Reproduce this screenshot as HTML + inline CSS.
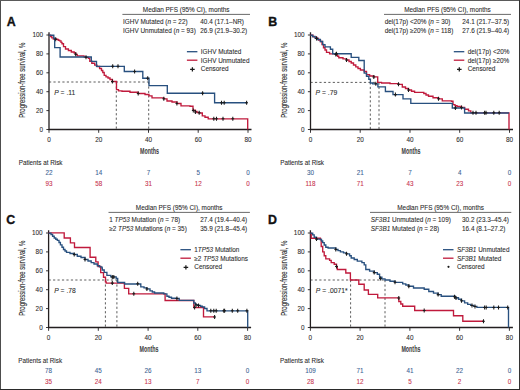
<!DOCTYPE html>
<html><head><meta charset="utf-8"><style>
html,body{margin:0;padding:0;background:#fff;width:520px;height:390px;overflow:hidden;font-family:"Liberation Sans",sans-serif;}
svg{display:block;}
text{font-family:"Liberation Sans",sans-serif;}
</style></head><body>
<svg width="520" height="390" viewBox="0 0 520 390" font-family="Liberation Sans, sans-serif">
<rect x="0" y="0" width="520" height="390" fill="#fff"/>
<text x="6.7" y="25.5" font-size="12.4" font-weight="bold" fill="#111" stroke="#111" stroke-width="0.35">A</text>
<text x="186.2" y="11.6" font-size="6.40" text-anchor="middle" fill="#2b2b2b" stroke="#2b2b2b" stroke-width="0.08" >Median PFS (95% CI), months</text>
<line x1="122.4" y1="14.4" x2="250.0" y2="14.4" stroke="#444" stroke-width="0.8"/>
<text x="123.1" y="23.8" font-size="6.40" text-anchor="start" fill="#2b2b2b" stroke="#2b2b2b" stroke-width="0.08" >IGHV Mutated (<tspan font-style="italic">n</tspan> = 22)</text>
<text x="200.3" y="23.8" font-size="6.40" text-anchor="start" fill="#2b2b2b" stroke="#2b2b2b" stroke-width="0.08" >40.4 (17.1–NR)</text>
<text x="123.1" y="33.0" font-size="6.40" text-anchor="start" fill="#2b2b2b" stroke="#2b2b2b" stroke-width="0.08" >IGHV Unmutated (<tspan font-style="italic">n</tspan> = 93)</text>
<text x="200.3" y="33.0" font-size="6.40" text-anchor="start" fill="#2b2b2b" stroke="#2b2b2b" stroke-width="0.08" >26.9 (21.9–30.2)</text>
<path d="M49.0 32.2 V129.5 H251.5" fill="none" stroke="#231f20" stroke-width="1.3"/>
<line x1="46.4" y1="129.5" x2="49.0" y2="129.5" stroke="#231f20" stroke-width="0.9"/>
<text x="43.1" y="131.8" font-size="6.40" text-anchor="end" fill="#2b2b2b" stroke="#2b2b2b" stroke-width="0.08" >0</text>
<line x1="46.4" y1="110.6" x2="49.0" y2="110.6" stroke="#231f20" stroke-width="0.9"/>
<text x="43.1" y="112.9" font-size="6.40" text-anchor="end" fill="#2b2b2b" stroke="#2b2b2b" stroke-width="0.08" >20</text>
<line x1="46.4" y1="91.7" x2="49.0" y2="91.7" stroke="#231f20" stroke-width="0.9"/>
<text x="43.1" y="94.0" font-size="6.40" text-anchor="end" fill="#2b2b2b" stroke="#2b2b2b" stroke-width="0.08" >40</text>
<line x1="46.4" y1="72.8" x2="49.0" y2="72.8" stroke="#231f20" stroke-width="0.9"/>
<text x="43.1" y="75.1" font-size="6.40" text-anchor="end" fill="#2b2b2b" stroke="#2b2b2b" stroke-width="0.08" >60</text>
<line x1="46.4" y1="53.9" x2="49.0" y2="53.9" stroke="#231f20" stroke-width="0.9"/>
<text x="43.1" y="56.2" font-size="6.40" text-anchor="end" fill="#2b2b2b" stroke="#2b2b2b" stroke-width="0.08" >80</text>
<line x1="46.4" y1="35.0" x2="49.0" y2="35.0" stroke="#231f20" stroke-width="0.9"/>
<text x="43.1" y="37.3" font-size="6.40" text-anchor="end" fill="#2b2b2b" stroke="#2b2b2b" stroke-width="0.08" >100</text>
<line x1="49.0" y1="129.5" x2="49.0" y2="132.8" stroke="#231f20" stroke-width="0.9"/>
<text x="49.0" y="142.2" font-size="6.40" text-anchor="middle" fill="#2b2b2b" stroke="#2b2b2b" stroke-width="0.08" >0</text>
<line x1="98.7" y1="129.5" x2="98.7" y2="132.8" stroke="#231f20" stroke-width="0.9"/>
<text x="98.7" y="142.2" font-size="6.40" text-anchor="middle" fill="#2b2b2b" stroke="#2b2b2b" stroke-width="0.08" >20</text>
<line x1="148.5" y1="129.5" x2="148.5" y2="132.8" stroke="#231f20" stroke-width="0.9"/>
<text x="148.5" y="142.2" font-size="6.40" text-anchor="middle" fill="#2b2b2b" stroke="#2b2b2b" stroke-width="0.08" >40</text>
<line x1="198.2" y1="129.5" x2="198.2" y2="132.8" stroke="#231f20" stroke-width="0.9"/>
<text x="198.2" y="142.2" font-size="6.40" text-anchor="middle" fill="#2b2b2b" stroke="#2b2b2b" stroke-width="0.08" >60</text>
<line x1="248.0" y1="129.5" x2="248.0" y2="132.8" stroke="#231f20" stroke-width="0.9"/>
<text x="248.0" y="142.2" font-size="6.40" text-anchor="middle" fill="#2b2b2b" stroke="#2b2b2b" stroke-width="0.08" >80</text>
<text x="149.5" y="153.6" font-size="8.20" text-anchor="middle" fill="#2b2b2b" stroke="#2b2b2b" stroke-width="0.08" font-weight="bold" textLength="19" lengthAdjust="spacingAndGlyphs" fill-opacity="0.9">Months</text>
<text transform="translate(25.1 80.2) rotate(-90)" font-size="8.4" text-anchor="middle" fill="#2b2b2b" stroke="#2b2b2b" stroke-width="0.12" textLength="75" lengthAdjust="spacingAndGlyphs">Progression-free survival, %</text>
<line x1="186.9" y1="51.7" x2="197.4" y2="51.7" stroke="#28507f" stroke-width="1.3"/>
<line x1="186.9" y1="60.2" x2="197.4" y2="60.2" stroke="#c01a3c" stroke-width="1.3"/>
<path d="M192.4 67.2 v4.4 M190.1 69.4 h4.6" stroke="#1a1a1a" stroke-width="1.25" fill="none"/>
<text x="200.8" y="54.0" font-size="6.40" text-anchor="start" fill="#2b2b2b" stroke="#2b2b2b" stroke-width="0.08" >IGHV Mutated</text>
<text x="200.8" y="62.6" font-size="6.40" text-anchor="start" fill="#2b2b2b" stroke="#2b2b2b" stroke-width="0.08" >IGHV Unmutated</text>
<text x="200.8" y="71.3" font-size="6.40" text-anchor="start" fill="#2b2b2b" stroke="#2b2b2b" stroke-width="0.08" >Censored</text>
<text x="54.2" y="95.0" font-size="6.75" text-anchor="start" fill="#2b2b2b" stroke="#2b2b2b" stroke-width="0.08" ><tspan font-style="italic">P</tspan> = .11</text>
<text x="18.7" y="164.8" font-size="6.30" text-anchor="start" fill="#2b2b2b" stroke="#2b2b2b" stroke-width="0.08" >Patients at Risk</text>
<text x="49.0" y="175.2" font-size="6.30" text-anchor="middle" fill="#3d6494" stroke="#3d6494" stroke-width="0.08" >22</text>
<text x="49.0" y="185.8" font-size="6.30" text-anchor="middle" fill="#c8324e" stroke="#c8324e" stroke-width="0.08" >93</text>
<text x="98.7" y="175.2" font-size="6.30" text-anchor="middle" fill="#3d6494" stroke="#3d6494" stroke-width="0.08" >14</text>
<text x="98.7" y="185.8" font-size="6.30" text-anchor="middle" fill="#c8324e" stroke="#c8324e" stroke-width="0.08" >58</text>
<text x="148.5" y="175.2" font-size="6.30" text-anchor="middle" fill="#3d6494" stroke="#3d6494" stroke-width="0.08" >7</text>
<text x="148.5" y="185.8" font-size="6.30" text-anchor="middle" fill="#c8324e" stroke="#c8324e" stroke-width="0.08" >31</text>
<text x="198.2" y="175.2" font-size="6.30" text-anchor="middle" fill="#3d6494" stroke="#3d6494" stroke-width="0.08" >5</text>
<text x="198.2" y="185.8" font-size="6.30" text-anchor="middle" fill="#c8324e" stroke="#c8324e" stroke-width="0.08" >12</text>
<text x="248.0" y="175.2" font-size="6.30" text-anchor="middle" fill="#3d6494" stroke="#3d6494" stroke-width="0.08" >0</text>
<text x="248.0" y="185.8" font-size="6.30" text-anchor="middle" fill="#c8324e" stroke="#c8324e" stroke-width="0.08" >0</text>
<path d="M49 82 H148.7 M116.3 82 V129.5 M148.7 82 V129.5" fill="none" stroke="#333" stroke-width="0.8" stroke-dasharray="2.2 2.25"/>
<path d="M49.0 35.2 H50.5 V36.5 H51.8 V37.8 H53.3 V39.0 H56.7 V39.3 H58.2 V40.2 H59.6 V40.8 H61.0 V42.3 H62.0 V43.7 H63.5 V46.6 H65.5 V49.0 H68.4 V50.5 H71.3 V52.0 H74.2 V53.0 H75.7 V54.4 H77.2 V55.9 H84.0 V56.9 H86.0 V57.3 H88.4 V58.3 H89.8 V61.2 H91.8 V63.2 H94.7 V65.1 H97.0 V66.5 H99.6 V68.5 H101.5 V70.5 H102.8 V72.5 H104.2 V75.4 H106.0 V76.8 H108.0 V78.0 H110.0 V79.5 H112.4 V81.5 H116.5 V83.0 H116.5 V89.6 H118.5 V90.8 H122.0 V91.2 H130.0 V92.2 H138.2 V93.5 H145.0 V94.5 H149.0 V95.8 H152.0 V97.8 H163.8 V98.8 H167.0 V101.0 H172.0 V102.0 H177.0 V103.5 H181.0 V105.8 H190.0 V106.2 H193.0 V110.2 H195.4 V111.5 H197.0 V112.5 H199.2 V113.0 H202.3 V115.8 H205.0 V117.2 H208.2 V118.8 H247.7 V118.8 H247.7 V129.5" fill="none" stroke="#c01a3c" stroke-width="1.35" stroke-linejoin="miter" />
<path d="M49.0 35.2 H53.8 V38.2 H54.7 V47.6 H60.1 V57.0 H91.3 V61.3 H96.5 V66.3 H124.3 V71.5 H142.8 V78.2 H149.0 V85.6 H167.3 V93.2 H214.6 V102.7 H247.3 V102.7" fill="none" stroke="#28507f" stroke-width="1.35" stroke-linejoin="miter" />
<path d="M55.7 37.3 v4 M54.3 39.3 h2.8" stroke="#1a1a1a" stroke-width="1.05" fill="none"/>
<path d="M75.7 52.2 v4 M74.3 54.2 h2.8" stroke="#1a1a1a" stroke-width="1.05" fill="none"/>
<path d="M86.0 55.3 v4 M84.6 57.3 h2.8" stroke="#1a1a1a" stroke-width="1.05" fill="none"/>
<path d="M112.4 79.5 v4 M111.0 81.5 h2.8" stroke="#1a1a1a" stroke-width="1.05" fill="none"/>
<path d="M138.2 91.5 v4 M136.8 93.5 h2.8" stroke="#1a1a1a" stroke-width="1.05" fill="none"/>
<path d="M163.8 96.8 v4 M162.4 98.8 h2.8" stroke="#1a1a1a" stroke-width="1.05" fill="none"/>
<path d="M176.9 101.5 v4 M175.5 103.5 h2.8" stroke="#1a1a1a" stroke-width="1.05" fill="none"/>
<path d="M193.3 108.4 v4 M191.9 110.4 h2.8" stroke="#1a1a1a" stroke-width="1.05" fill="none"/>
<path d="M195.4 110.0 v4 M194.0 112.0 h2.8" stroke="#1a1a1a" stroke-width="1.05" fill="none"/>
<path d="M199.2 110.8 v4 M197.8 112.8 h2.8" stroke="#1a1a1a" stroke-width="1.05" fill="none"/>
<path d="M213.8 116.8 v4 M212.4 118.8 h2.8" stroke="#1a1a1a" stroke-width="1.05" fill="none"/>
<path d="M216.5 116.8 v4 M215.1 118.8 h2.8" stroke="#1a1a1a" stroke-width="1.05" fill="none"/>
<path d="M223.0 116.8 v4 M221.6 118.8 h2.8" stroke="#1a1a1a" stroke-width="1.05" fill="none"/>
<path d="M232.8 116.8 v4 M231.4 118.8 h2.8" stroke="#1a1a1a" stroke-width="1.05" fill="none"/>
<path d="M112.7 64.3 v4 M111.3 66.3 h2.8" stroke="#1a1a1a" stroke-width="1.05" fill="none"/>
<path d="M118.0 64.3 v4 M116.6 66.3 h2.8" stroke="#1a1a1a" stroke-width="1.05" fill="none"/>
<path d="M134.6 69.5 v4 M133.2 71.5 h2.8" stroke="#1a1a1a" stroke-width="1.05" fill="none"/>
<path d="M147.7 76.2 v4 M146.3 78.2 h2.8" stroke="#1a1a1a" stroke-width="1.05" fill="none"/>
<path d="M202.6 91.2 v4 M201.2 93.2 h2.8" stroke="#1a1a1a" stroke-width="1.05" fill="none"/>
<path d="M221.5 100.7 v4 M220.1 102.7 h2.8" stroke="#1a1a1a" stroke-width="1.05" fill="none"/>
<path d="M224.2 100.7 v4 M222.8 102.7 h2.8" stroke="#1a1a1a" stroke-width="1.05" fill="none"/>
<path d="M246.6 100.7 v4 M245.2 102.7 h2.8" stroke="#1a1a1a" stroke-width="1.05" fill="none"/>
<text x="268.2" y="25.5" font-size="12.4" font-weight="bold" fill="#111" stroke="#111" stroke-width="0.35">B</text>
<text x="447.5" y="11.6" font-size="6.40" text-anchor="middle" fill="#2b2b2b" stroke="#2b2b2b" stroke-width="0.08" >Median PFS (95% CI), months</text>
<line x1="384.0" y1="14.4" x2="511.0" y2="14.4" stroke="#444" stroke-width="0.8"/>
<text x="384.7" y="23.8" font-size="6.40" text-anchor="start" fill="#2b2b2b" stroke="#2b2b2b" stroke-width="0.08" >del(17p) &lt;20% (<tspan font-style="italic">n</tspan> = 30)</text>
<text x="462.3" y="23.8" font-size="6.40" text-anchor="start" fill="#2b2b2b" stroke="#2b2b2b" stroke-width="0.08" >24.1 (21.7–37.5)</text>
<text x="384.7" y="33.0" font-size="6.40" text-anchor="start" fill="#2b2b2b" stroke="#2b2b2b" stroke-width="0.08" >del(17p) ≥20% (<tspan font-style="italic">n</tspan> = 118)</text>
<text x="462.3" y="33.0" font-size="6.40" text-anchor="start" fill="#2b2b2b" stroke="#2b2b2b" stroke-width="0.08" >27.6 (21.9–40.4)</text>
<path d="M310.5 32.2 V129.5 H513.0" fill="none" stroke="#231f20" stroke-width="1.3"/>
<line x1="307.9" y1="129.5" x2="310.5" y2="129.5" stroke="#231f20" stroke-width="0.9"/>
<text x="304.6" y="131.8" font-size="6.40" text-anchor="end" fill="#2b2b2b" stroke="#2b2b2b" stroke-width="0.08" >0</text>
<line x1="307.9" y1="110.6" x2="310.5" y2="110.6" stroke="#231f20" stroke-width="0.9"/>
<text x="304.6" y="112.9" font-size="6.40" text-anchor="end" fill="#2b2b2b" stroke="#2b2b2b" stroke-width="0.08" >20</text>
<line x1="307.9" y1="91.7" x2="310.5" y2="91.7" stroke="#231f20" stroke-width="0.9"/>
<text x="304.6" y="94.0" font-size="6.40" text-anchor="end" fill="#2b2b2b" stroke="#2b2b2b" stroke-width="0.08" >40</text>
<line x1="307.9" y1="72.8" x2="310.5" y2="72.8" stroke="#231f20" stroke-width="0.9"/>
<text x="304.6" y="75.1" font-size="6.40" text-anchor="end" fill="#2b2b2b" stroke="#2b2b2b" stroke-width="0.08" >60</text>
<line x1="307.9" y1="53.9" x2="310.5" y2="53.9" stroke="#231f20" stroke-width="0.9"/>
<text x="304.6" y="56.2" font-size="6.40" text-anchor="end" fill="#2b2b2b" stroke="#2b2b2b" stroke-width="0.08" >80</text>
<line x1="307.9" y1="35.0" x2="310.5" y2="35.0" stroke="#231f20" stroke-width="0.9"/>
<text x="304.6" y="37.3" font-size="6.40" text-anchor="end" fill="#2b2b2b" stroke="#2b2b2b" stroke-width="0.08" >100</text>
<line x1="310.5" y1="129.5" x2="310.5" y2="132.8" stroke="#231f20" stroke-width="0.9"/>
<text x="310.5" y="142.2" font-size="6.40" text-anchor="middle" fill="#2b2b2b" stroke="#2b2b2b" stroke-width="0.08" >0</text>
<line x1="360.2" y1="129.5" x2="360.2" y2="132.8" stroke="#231f20" stroke-width="0.9"/>
<text x="360.2" y="142.2" font-size="6.40" text-anchor="middle" fill="#2b2b2b" stroke="#2b2b2b" stroke-width="0.08" >20</text>
<line x1="410.0" y1="129.5" x2="410.0" y2="132.8" stroke="#231f20" stroke-width="0.9"/>
<text x="410.0" y="142.2" font-size="6.40" text-anchor="middle" fill="#2b2b2b" stroke="#2b2b2b" stroke-width="0.08" >40</text>
<line x1="459.7" y1="129.5" x2="459.7" y2="132.8" stroke="#231f20" stroke-width="0.9"/>
<text x="459.7" y="142.2" font-size="6.40" text-anchor="middle" fill="#2b2b2b" stroke="#2b2b2b" stroke-width="0.08" >60</text>
<line x1="509.5" y1="129.5" x2="509.5" y2="132.8" stroke="#231f20" stroke-width="0.9"/>
<text x="509.5" y="142.2" font-size="6.40" text-anchor="middle" fill="#2b2b2b" stroke="#2b2b2b" stroke-width="0.08" >80</text>
<text x="411.0" y="153.6" font-size="8.20" text-anchor="middle" fill="#2b2b2b" stroke="#2b2b2b" stroke-width="0.08" font-weight="bold" textLength="19" lengthAdjust="spacingAndGlyphs" fill-opacity="0.9">Months</text>
<text transform="translate(286.6 80.2) rotate(-90)" font-size="8.4" text-anchor="middle" fill="#2b2b2b" stroke="#2b2b2b" stroke-width="0.12" textLength="75" lengthAdjust="spacingAndGlyphs">Progression-free survival, %</text>
<line x1="453.8" y1="51.7" x2="464.3" y2="51.7" stroke="#28507f" stroke-width="1.3"/>
<line x1="453.8" y1="60.2" x2="464.3" y2="60.2" stroke="#c01a3c" stroke-width="1.3"/>
<path d="M459.3 67.2 v4.4 M457.0 69.4 h4.6" stroke="#1a1a1a" stroke-width="1.25" fill="none"/>
<text x="467.7" y="54.0" font-size="6.40" text-anchor="start" fill="#2b2b2b" stroke="#2b2b2b" stroke-width="0.08" >del(17p) &lt;20%</text>
<text x="467.7" y="62.6" font-size="6.40" text-anchor="start" fill="#2b2b2b" stroke="#2b2b2b" stroke-width="0.08" >del(17p) ≥20%</text>
<text x="467.7" y="71.3" font-size="6.40" text-anchor="start" fill="#2b2b2b" stroke="#2b2b2b" stroke-width="0.08" >Censored</text>
<text x="315.6" y="95.0" font-size="6.75" text-anchor="start" fill="#2b2b2b" stroke="#2b2b2b" stroke-width="0.08" ><tspan font-style="italic">P</tspan> = .79</text>
<text x="280.2" y="164.8" font-size="6.30" text-anchor="start" fill="#2b2b2b" stroke="#2b2b2b" stroke-width="0.08" >Patients at Risk</text>
<text x="310.5" y="175.2" font-size="6.30" text-anchor="middle" fill="#3d6494" stroke="#3d6494" stroke-width="0.08" >30</text>
<text x="310.5" y="185.8" font-size="6.30" text-anchor="middle" fill="#c8324e" stroke="#c8324e" stroke-width="0.08" >118</text>
<text x="360.2" y="175.2" font-size="6.30" text-anchor="middle" fill="#3d6494" stroke="#3d6494" stroke-width="0.08" >21</text>
<text x="360.2" y="185.8" font-size="6.30" text-anchor="middle" fill="#c8324e" stroke="#c8324e" stroke-width="0.08" >71</text>
<text x="410.0" y="175.2" font-size="6.30" text-anchor="middle" fill="#3d6494" stroke="#3d6494" stroke-width="0.08" >7</text>
<text x="410.0" y="185.8" font-size="6.30" text-anchor="middle" fill="#c8324e" stroke="#c8324e" stroke-width="0.08" >43</text>
<text x="459.7" y="175.2" font-size="6.30" text-anchor="middle" fill="#3d6494" stroke="#3d6494" stroke-width="0.08" >4</text>
<text x="459.7" y="185.8" font-size="6.30" text-anchor="middle" fill="#c8324e" stroke="#c8324e" stroke-width="0.08" >23</text>
<text x="509.5" y="175.2" font-size="6.30" text-anchor="middle" fill="#3d6494" stroke="#3d6494" stroke-width="0.08" >0</text>
<text x="509.5" y="185.8" font-size="6.30" text-anchor="middle" fill="#c8324e" stroke="#c8324e" stroke-width="0.08" >0</text>
<path d="M310.5 82.4 H379 M370.3 82.4 V129.5 M379 82.4 V129.5" fill="none" stroke="#333" stroke-width="0.8" stroke-dasharray="2.2 2.25"/>
<path d="M310.5 35.2 H313.0 V36.8 H316.5 V38.5 H318.5 V40.0 H320.4 V41.5 H322.0 V44.5 H323.5 V47.7 H325.0 V50.0 H326.5 V52.3 H329.6 V53.8 H335.8 V54.6 H337.5 V56.2 H338.8 V57.7 H343.0 V58.8 H346.5 V60.0 H349.0 V61.5 H351.2 V63.0 H353.5 V65.0 H355.8 V66.9 H358.0 V68.5 H360.4 V70.0 H364.2 V71.5 H366.5 V74.6 H369.6 V76.0 H373.8 V76.9 H377.7 V78.5 H377.7 V82.3 H381.5 V83.0 H390.0 V83.6 H398.5 V84.3 H402.3 V87.0 H405.5 V88.5 H408.5 V90.0 H411.5 V91.2 H414.6 V92.3 H423.8 V93.5 H426.0 V95.0 H428.5 V96.2 H433.0 V97.7 H438.5 V98.8 H442.3 V100.8 H451.5 V101.2 H453.0 V104.6 H455.0 V105.6 H457.0 V106.5 H461.5 V107.4 H464.6 V109.2 H468.5 V110.8 H470.8 V112.8 H509.0 V112.8 H509.0 V129.5" fill="none" stroke="#c01a3c" stroke-width="1.35" stroke-linejoin="miter" />
<path d="M310.5 35.2 H312.5 V36.5 H315.0 V38.0 H317.5 V39.5 H320.4 V41.5 H322.7 V44.6 H325.0 V46.9 H330.4 V49.2 H332.7 V53.7 H351.2 V57.4 H358.8 V60.5 H364.2 V73.1 H366.5 V76.2 H368.8 V79.2 H370.4 V83.0 H372.7 V83.8 H377.9 V86.9 H385.4 V91.5 H393.0 V94.6 H403.0 V98.8 H410.8 V103.3 H452.3 V108.0 H464.6 V113.0 H509.0 V113.0" fill="none" stroke="#28507f" stroke-width="1.35" stroke-linejoin="miter" />
<path d="M316.5 36.5 v4 M315.1 38.5 h2.8" stroke="#1a1a1a" stroke-width="1.05" fill="none"/>
<path d="M335.8 52.4 v4 M334.4 54.4 h2.8" stroke="#1a1a1a" stroke-width="1.05" fill="none"/>
<path d="M346.5 58.0 v4 M345.1 60.0 h2.8" stroke="#1a1a1a" stroke-width="1.05" fill="none"/>
<path d="M373.8 74.9 v4 M372.4 76.9 h2.8" stroke="#1a1a1a" stroke-width="1.05" fill="none"/>
<path d="M398.5 82.3 v4 M397.1 84.3 h2.8" stroke="#1a1a1a" stroke-width="1.05" fill="none"/>
<path d="M408.5 88.0 v4 M407.1 90.0 h2.8" stroke="#1a1a1a" stroke-width="1.05" fill="none"/>
<path d="M438.5 96.8 v4 M437.1 98.8 h2.8" stroke="#1a1a1a" stroke-width="1.05" fill="none"/>
<path d="M461.5 105.4 v4 M460.1 107.4 h2.8" stroke="#1a1a1a" stroke-width="1.05" fill="none"/>
<path d="M473.0 110.8 v4 M471.6 112.8 h2.8" stroke="#1a1a1a" stroke-width="1.05" fill="none"/>
<path d="M476.0 110.8 v4 M474.6 112.8 h2.8" stroke="#1a1a1a" stroke-width="1.05" fill="none"/>
<path d="M484.6 110.8 v4 M483.2 112.8 h2.8" stroke="#1a1a1a" stroke-width="1.05" fill="none"/>
<path d="M486.0 110.8 v4 M484.6 112.8 h2.8" stroke="#1a1a1a" stroke-width="1.05" fill="none"/>
<path d="M493.8 110.8 v4 M492.4 112.8 h2.8" stroke="#1a1a1a" stroke-width="1.05" fill="none"/>
<path d="M499.2 110.8 v4 M497.8 112.8 h2.8" stroke="#1a1a1a" stroke-width="1.05" fill="none"/>
<path d="M336.5 51.7 v4 M335.1 53.7 h2.8" stroke="#1a1a1a" stroke-width="1.05" fill="none"/>
<path d="M375.8 81.8 v4 M374.4 83.8 h2.8" stroke="#1a1a1a" stroke-width="1.05" fill="none"/>
<path d="M395.4 92.6 v4 M394.0 94.6 h2.8" stroke="#1a1a1a" stroke-width="1.05" fill="none"/>
<path d="M455.4 106.0 v4 M454.0 108.0 h2.8" stroke="#1a1a1a" stroke-width="1.05" fill="none"/>
<text x="6.3" y="223.5" font-size="12.4" font-weight="bold" fill="#111" stroke="#111" stroke-width="0.35">C</text>
<text x="179.2" y="209.6" font-size="6.40" text-anchor="middle" fill="#2b2b2b" stroke="#2b2b2b" stroke-width="0.08" >Median PFS (95% CI), months</text>
<line x1="108.5" y1="212.4" x2="249.9" y2="212.4" stroke="#444" stroke-width="0.8"/>
<text x="109.2" y="221.8" font-size="6.40" text-anchor="start" fill="#2b2b2b" stroke="#2b2b2b" stroke-width="0.08" >1 <tspan font-style="italic">TP53</tspan> Mutation (<tspan font-style="italic">n</tspan> = 78)</text>
<text x="200.3" y="221.8" font-size="6.40" text-anchor="start" fill="#2b2b2b" stroke="#2b2b2b" stroke-width="0.08" >27.4 (19.4–40.4)</text>
<text x="109.2" y="231.0" font-size="6.40" text-anchor="start" fill="#2b2b2b" stroke="#2b2b2b" stroke-width="0.08" >≥2 <tspan font-style="italic">TP53</tspan> Mutations (<tspan font-style="italic">n</tspan> = 35)</text>
<text x="200.3" y="231.0" font-size="6.40" text-anchor="start" fill="#2b2b2b" stroke="#2b2b2b" stroke-width="0.08" >35.9 (21.8–45.4)</text>
<path d="M48.6 230.2 V327.5 H251.1" fill="none" stroke="#231f20" stroke-width="1.3"/>
<line x1="46.0" y1="327.5" x2="48.6" y2="327.5" stroke="#231f20" stroke-width="0.9"/>
<text x="42.7" y="329.8" font-size="6.40" text-anchor="end" fill="#2b2b2b" stroke="#2b2b2b" stroke-width="0.08" >0</text>
<line x1="46.0" y1="308.6" x2="48.6" y2="308.6" stroke="#231f20" stroke-width="0.9"/>
<text x="42.7" y="310.9" font-size="6.40" text-anchor="end" fill="#2b2b2b" stroke="#2b2b2b" stroke-width="0.08" >20</text>
<line x1="46.0" y1="289.7" x2="48.6" y2="289.7" stroke="#231f20" stroke-width="0.9"/>
<text x="42.7" y="292.0" font-size="6.40" text-anchor="end" fill="#2b2b2b" stroke="#2b2b2b" stroke-width="0.08" >40</text>
<line x1="46.0" y1="270.8" x2="48.6" y2="270.8" stroke="#231f20" stroke-width="0.9"/>
<text x="42.7" y="273.1" font-size="6.40" text-anchor="end" fill="#2b2b2b" stroke="#2b2b2b" stroke-width="0.08" >60</text>
<line x1="46.0" y1="251.9" x2="48.6" y2="251.9" stroke="#231f20" stroke-width="0.9"/>
<text x="42.7" y="254.2" font-size="6.40" text-anchor="end" fill="#2b2b2b" stroke="#2b2b2b" stroke-width="0.08" >80</text>
<line x1="46.0" y1="233.0" x2="48.6" y2="233.0" stroke="#231f20" stroke-width="0.9"/>
<text x="42.7" y="235.3" font-size="6.40" text-anchor="end" fill="#2b2b2b" stroke="#2b2b2b" stroke-width="0.08" >100</text>
<line x1="48.6" y1="327.5" x2="48.6" y2="330.8" stroke="#231f20" stroke-width="0.9"/>
<text x="48.6" y="340.2" font-size="6.40" text-anchor="middle" fill="#2b2b2b" stroke="#2b2b2b" stroke-width="0.08" >0</text>
<line x1="98.3" y1="327.5" x2="98.3" y2="330.8" stroke="#231f20" stroke-width="0.9"/>
<text x="98.3" y="340.2" font-size="6.40" text-anchor="middle" fill="#2b2b2b" stroke="#2b2b2b" stroke-width="0.08" >20</text>
<line x1="148.1" y1="327.5" x2="148.1" y2="330.8" stroke="#231f20" stroke-width="0.9"/>
<text x="148.1" y="340.2" font-size="6.40" text-anchor="middle" fill="#2b2b2b" stroke="#2b2b2b" stroke-width="0.08" >40</text>
<line x1="197.8" y1="327.5" x2="197.8" y2="330.8" stroke="#231f20" stroke-width="0.9"/>
<text x="197.8" y="340.2" font-size="6.40" text-anchor="middle" fill="#2b2b2b" stroke="#2b2b2b" stroke-width="0.08" >60</text>
<line x1="247.6" y1="327.5" x2="247.6" y2="330.8" stroke="#231f20" stroke-width="0.9"/>
<text x="247.6" y="340.2" font-size="6.40" text-anchor="middle" fill="#2b2b2b" stroke="#2b2b2b" stroke-width="0.08" >80</text>
<text x="149.1" y="351.6" font-size="8.20" text-anchor="middle" fill="#2b2b2b" stroke="#2b2b2b" stroke-width="0.08" font-weight="bold" textLength="19" lengthAdjust="spacingAndGlyphs" fill-opacity="0.9">Months</text>
<text transform="translate(24.7 278.2) rotate(-90)" font-size="8.4" text-anchor="middle" fill="#2b2b2b" stroke="#2b2b2b" stroke-width="0.12" textLength="75" lengthAdjust="spacingAndGlyphs">Progression-free survival, %</text>
<line x1="180.4" y1="249.7" x2="190.9" y2="249.7" stroke="#28507f" stroke-width="1.3"/>
<line x1="180.4" y1="258.2" x2="190.9" y2="258.2" stroke="#c01a3c" stroke-width="1.3"/>
<path d="M185.9 265.2 v4.4 M183.6 267.4 h4.6" stroke="#1a1a1a" stroke-width="1.25" fill="none"/>
<text x="194.3" y="252.0" font-size="6.40" text-anchor="start" fill="#2b2b2b" stroke="#2b2b2b" stroke-width="0.08" >1<tspan font-style="italic">TP53</tspan> Mutation</text>
<text x="194.3" y="260.6" font-size="6.40" text-anchor="start" fill="#2b2b2b" stroke="#2b2b2b" stroke-width="0.08" >≥2 <tspan font-style="italic">TP53</tspan> Mutations</text>
<text x="194.3" y="269.3" font-size="6.40" text-anchor="start" fill="#2b2b2b" stroke="#2b2b2b" stroke-width="0.08" >Censored</text>
<text x="54.2" y="293.0" font-size="6.75" text-anchor="start" fill="#2b2b2b" stroke="#2b2b2b" stroke-width="0.08" ><tspan font-style="italic">P</tspan> = .78</text>
<text x="18.3" y="362.8" font-size="6.30" text-anchor="start" fill="#2b2b2b" stroke="#2b2b2b" stroke-width="0.08" >Patients at Risk</text>
<text x="48.6" y="373.2" font-size="6.30" text-anchor="middle" fill="#3d6494" stroke="#3d6494" stroke-width="0.08" >78</text>
<text x="48.6" y="383.8" font-size="6.30" text-anchor="middle" fill="#c8324e" stroke="#c8324e" stroke-width="0.08" >35</text>
<text x="98.3" y="373.2" font-size="6.30" text-anchor="middle" fill="#3d6494" stroke="#3d6494" stroke-width="0.08" >45</text>
<text x="98.3" y="383.8" font-size="6.30" text-anchor="middle" fill="#c8324e" stroke="#c8324e" stroke-width="0.08" >24</text>
<text x="148.1" y="373.2" font-size="6.30" text-anchor="middle" fill="#3d6494" stroke="#3d6494" stroke-width="0.08" >26</text>
<text x="148.1" y="383.8" font-size="6.30" text-anchor="middle" fill="#c8324e" stroke="#c8324e" stroke-width="0.08" >13</text>
<text x="197.8" y="373.2" font-size="6.30" text-anchor="middle" fill="#3d6494" stroke="#3d6494" stroke-width="0.08" >13</text>
<text x="197.8" y="383.8" font-size="6.30" text-anchor="middle" fill="#c8324e" stroke="#c8324e" stroke-width="0.08" >7</text>
<text x="247.6" y="373.2" font-size="6.30" text-anchor="middle" fill="#3d6494" stroke="#3d6494" stroke-width="0.08" >0</text>
<text x="247.6" y="383.8" font-size="6.30" text-anchor="middle" fill="#c8324e" stroke="#c8324e" stroke-width="0.08" >0</text>
<path d="M48.6 280 H117 M105.4 280 V327.5 M116.9 280 V327.5" fill="none" stroke="#333" stroke-width="0.8" stroke-dasharray="2.2 2.25"/>
<path d="M48.6 232.9 H64.2 V238.0 H70.4 V242.9 H74.5 V247.5 H90.1 V257.2 H95.8 V261.8 H98.1 V266.5 H100.7 V272.6 H103.5 V277.2 H105.5 V281.8 H106.2 V283.1 H124.4 V288.3 H128.7 V293.8 H165.1 V300.5 H193.8 V307.5 H203.5 V316.9 H214.6 V316.9" fill="none" stroke="#c01a3c" stroke-width="1.35" stroke-linejoin="miter" />
<path d="M48.6 233.2 H51.0 V234.5 H52.6 V236.2 H54.2 V238.0 H55.8 V239.2 H57.3 V240.3 H59.0 V242.5 H60.4 V244.9 H62.0 V247.2 H63.5 V249.5 H65.0 V251.0 H66.5 V252.3 H70.0 V253.5 H74.2 V254.5 H77.3 V256.2 H81.0 V257.5 H85.0 V259.5 H88.0 V261.0 H91.2 V262.6 H94.0 V264.0 H97.3 V265.7 H99.6 V266.8 H101.9 V268.0 H102.3 V270.0 H104.2 V272.3 H106.9 V275.4 H110.8 V276.9 H113.8 V276.9 H116.2 V278.5 H117.7 V282.5 H124.6 V284.0 H138.0 V284.0 H140.8 V286.9 H144.0 V287.9 H146.9 V288.9 H150.0 V290.8 H152.3 V292.0 H154.6 V293.0 H163.8 V293.8 H166.9 V296.2 H169.0 V297.2 H171.5 V298.2 H176.9 V298.5 H179.2 V300.3 H192.3 V300.3 H193.8 V303.0 H195.4 V304.6 H198.5 V305.4 H200.5 V306.2 H202.3 V307.0 H204.6 V308.5 H207.0 V310.8 H247.7 V310.8 H247.7 V327.5" fill="none" stroke="#28507f" stroke-width="1.35" stroke-linejoin="miter" />
<path d="M74.2 252.5 v4 M72.8 254.5 h2.8" stroke="#1a1a1a" stroke-width="1.05" fill="none"/>
<path d="M85.0 257.5 v4 M83.6 259.5 h2.8" stroke="#1a1a1a" stroke-width="1.05" fill="none"/>
<path d="M112.3 274.9 v4 M110.9 276.9 h2.8" stroke="#1a1a1a" stroke-width="1.05" fill="none"/>
<path d="M113.8 274.9 v4 M112.4 276.9 h2.8" stroke="#1a1a1a" stroke-width="1.05" fill="none"/>
<path d="M137.7 281.8 v4 M136.3 283.8 h2.8" stroke="#1a1a1a" stroke-width="1.05" fill="none"/>
<path d="M146.9 286.9 v4 M145.5 288.9 h2.8" stroke="#1a1a1a" stroke-width="1.05" fill="none"/>
<path d="M176.9 296.5 v4 M175.5 298.5 h2.8" stroke="#1a1a1a" stroke-width="1.05" fill="none"/>
<path d="M196.0 303.0 v4 M194.6 305.0 h2.8" stroke="#1a1a1a" stroke-width="1.05" fill="none"/>
<path d="M198.5 303.4 v4 M197.1 305.4 h2.8" stroke="#1a1a1a" stroke-width="1.05" fill="none"/>
<path d="M210.8 308.8 v4 M209.4 310.8 h2.8" stroke="#1a1a1a" stroke-width="1.05" fill="none"/>
<path d="M213.8 308.8 v4 M212.4 310.8 h2.8" stroke="#1a1a1a" stroke-width="1.05" fill="none"/>
<path d="M216.2 308.8 v4 M214.8 310.8 h2.8" stroke="#1a1a1a" stroke-width="1.05" fill="none"/>
<path d="M223.8 308.8 v4 M222.4 310.8 h2.8" stroke="#1a1a1a" stroke-width="1.05" fill="none"/>
<path d="M224.6 308.8 v4 M223.2 310.8 h2.8" stroke="#1a1a1a" stroke-width="1.05" fill="none"/>
<path d="M232.3 308.8 v4 M230.9 310.8 h2.8" stroke="#1a1a1a" stroke-width="1.05" fill="none"/>
<path d="M237.7 308.8 v4 M236.3 310.8 h2.8" stroke="#1a1a1a" stroke-width="1.05" fill="none"/>
<path d="M246.9 308.8 v4 M245.5 310.8 h2.8" stroke="#1a1a1a" stroke-width="1.05" fill="none"/>
<path d="M112.3 281.1 v4 M110.9 283.1 h2.8" stroke="#1a1a1a" stroke-width="1.05" fill="none"/>
<path d="M133.8 291.8 v4 M132.4 293.8 h2.8" stroke="#1a1a1a" stroke-width="1.05" fill="none"/>
<path d="M194.6 305.5 v4 M193.2 307.5 h2.8" stroke="#1a1a1a" stroke-width="1.05" fill="none"/>
<path d="M214.6 314.9 v4 M213.2 316.9 h2.8" stroke="#1a1a1a" stroke-width="1.05" fill="none"/>
<text x="268.1" y="223.5" font-size="12.4" font-weight="bold" fill="#111" stroke="#111" stroke-width="0.35">D</text>
<text x="440.6" y="209.6" font-size="6.40" text-anchor="middle" fill="#2b2b2b" stroke="#2b2b2b" stroke-width="0.08" >Median PFS (95% CI), months</text>
<line x1="370.0" y1="212.4" x2="511.3" y2="212.4" stroke="#444" stroke-width="0.8"/>
<text x="370.7" y="221.8" font-size="6.40" text-anchor="start" fill="#2b2b2b" stroke="#2b2b2b" stroke-width="0.08" ><tspan font-style="italic">SF3B1</tspan> Unmutated (<tspan font-style="italic">n</tspan> = 109)</text>
<text x="462.0" y="221.8" font-size="6.40" text-anchor="start" fill="#2b2b2b" stroke="#2b2b2b" stroke-width="0.08" >30.2 (23.3–45.4)</text>
<text x="370.7" y="231.0" font-size="6.40" text-anchor="start" fill="#2b2b2b" stroke="#2b2b2b" stroke-width="0.08" ><tspan font-style="italic">SF3B1</tspan> Mutated (<tspan font-style="italic">n</tspan> = 28)</text>
<text x="462.0" y="231.0" font-size="6.40" text-anchor="start" fill="#2b2b2b" stroke="#2b2b2b" stroke-width="0.08" >16.4 (8.1–27.2)</text>
<path d="M310.4 230.2 V327.5 H512.9" fill="none" stroke="#231f20" stroke-width="1.3"/>
<line x1="307.8" y1="327.5" x2="310.4" y2="327.5" stroke="#231f20" stroke-width="0.9"/>
<text x="304.5" y="329.8" font-size="6.40" text-anchor="end" fill="#2b2b2b" stroke="#2b2b2b" stroke-width="0.08" >0</text>
<line x1="307.8" y1="308.6" x2="310.4" y2="308.6" stroke="#231f20" stroke-width="0.9"/>
<text x="304.5" y="310.9" font-size="6.40" text-anchor="end" fill="#2b2b2b" stroke="#2b2b2b" stroke-width="0.08" >20</text>
<line x1="307.8" y1="289.7" x2="310.4" y2="289.7" stroke="#231f20" stroke-width="0.9"/>
<text x="304.5" y="292.0" font-size="6.40" text-anchor="end" fill="#2b2b2b" stroke="#2b2b2b" stroke-width="0.08" >40</text>
<line x1="307.8" y1="270.8" x2="310.4" y2="270.8" stroke="#231f20" stroke-width="0.9"/>
<text x="304.5" y="273.1" font-size="6.40" text-anchor="end" fill="#2b2b2b" stroke="#2b2b2b" stroke-width="0.08" >60</text>
<line x1="307.8" y1="251.9" x2="310.4" y2="251.9" stroke="#231f20" stroke-width="0.9"/>
<text x="304.5" y="254.2" font-size="6.40" text-anchor="end" fill="#2b2b2b" stroke="#2b2b2b" stroke-width="0.08" >80</text>
<line x1="307.8" y1="233.0" x2="310.4" y2="233.0" stroke="#231f20" stroke-width="0.9"/>
<text x="304.5" y="235.3" font-size="6.40" text-anchor="end" fill="#2b2b2b" stroke="#2b2b2b" stroke-width="0.08" >100</text>
<line x1="310.4" y1="327.5" x2="310.4" y2="330.8" stroke="#231f20" stroke-width="0.9"/>
<text x="310.4" y="340.2" font-size="6.40" text-anchor="middle" fill="#2b2b2b" stroke="#2b2b2b" stroke-width="0.08" >0</text>
<line x1="360.1" y1="327.5" x2="360.1" y2="330.8" stroke="#231f20" stroke-width="0.9"/>
<text x="360.1" y="340.2" font-size="6.40" text-anchor="middle" fill="#2b2b2b" stroke="#2b2b2b" stroke-width="0.08" >20</text>
<line x1="409.9" y1="327.5" x2="409.9" y2="330.8" stroke="#231f20" stroke-width="0.9"/>
<text x="409.9" y="340.2" font-size="6.40" text-anchor="middle" fill="#2b2b2b" stroke="#2b2b2b" stroke-width="0.08" >40</text>
<line x1="459.6" y1="327.5" x2="459.6" y2="330.8" stroke="#231f20" stroke-width="0.9"/>
<text x="459.6" y="340.2" font-size="6.40" text-anchor="middle" fill="#2b2b2b" stroke="#2b2b2b" stroke-width="0.08" >60</text>
<line x1="509.4" y1="327.5" x2="509.4" y2="330.8" stroke="#231f20" stroke-width="0.9"/>
<text x="509.4" y="340.2" font-size="6.40" text-anchor="middle" fill="#2b2b2b" stroke="#2b2b2b" stroke-width="0.08" >80</text>
<text x="410.9" y="351.6" font-size="8.20" text-anchor="middle" fill="#2b2b2b" stroke="#2b2b2b" stroke-width="0.08" font-weight="bold" textLength="19" lengthAdjust="spacingAndGlyphs" fill-opacity="0.9">Months</text>
<text transform="translate(286.5 278.2) rotate(-90)" font-size="8.4" text-anchor="middle" fill="#2b2b2b" stroke="#2b2b2b" stroke-width="0.12" textLength="75" lengthAdjust="spacingAndGlyphs">Progression-free survival, %</text>
<line x1="443.0" y1="249.7" x2="453.5" y2="249.7" stroke="#28507f" stroke-width="1.3"/>
<line x1="443.0" y1="258.2" x2="453.5" y2="258.2" stroke="#c01a3c" stroke-width="1.3"/>
<circle cx="448.5" cy="266.8" r="1.1" fill="#1a1a1a"/>
<text x="456.9" y="252.0" font-size="6.40" text-anchor="start" fill="#2b2b2b" stroke="#2b2b2b" stroke-width="0.08" ><tspan font-style="italic">SF3B1</tspan> Unmutated</text>
<text x="456.9" y="260.6" font-size="6.40" text-anchor="start" fill="#2b2b2b" stroke="#2b2b2b" stroke-width="0.08" ><tspan font-style="italic">SF3B1</tspan> Mutated</text>
<text x="456.9" y="269.3" font-size="6.40" text-anchor="start" fill="#2b2b2b" stroke="#2b2b2b" stroke-width="0.08" >Censored</text>
<text x="315.8" y="293.0" font-size="6.75" text-anchor="start" fill="#2b2b2b" stroke="#2b2b2b" stroke-width="0.08" ><tspan font-style="italic">P</tspan> = .0071*</text>
<text x="280.1" y="362.8" font-size="6.30" text-anchor="start" fill="#2b2b2b" stroke="#2b2b2b" stroke-width="0.08" >Patients at Risk</text>
<text x="310.4" y="373.2" font-size="6.30" text-anchor="middle" fill="#3d6494" stroke="#3d6494" stroke-width="0.08" >109</text>
<text x="310.4" y="383.8" font-size="6.30" text-anchor="middle" fill="#c8324e" stroke="#c8324e" stroke-width="0.08" >28</text>
<text x="360.1" y="373.2" font-size="6.30" text-anchor="middle" fill="#3d6494" stroke="#3d6494" stroke-width="0.08" >71</text>
<text x="360.1" y="383.8" font-size="6.30" text-anchor="middle" fill="#c8324e" stroke="#c8324e" stroke-width="0.08" >12</text>
<text x="409.9" y="373.2" font-size="6.30" text-anchor="middle" fill="#3d6494" stroke="#3d6494" stroke-width="0.08" >41</text>
<text x="409.9" y="383.8" font-size="6.30" text-anchor="middle" fill="#c8324e" stroke="#c8324e" stroke-width="0.08" >5</text>
<text x="459.6" y="373.2" font-size="6.30" text-anchor="middle" fill="#3d6494" stroke="#3d6494" stroke-width="0.08" >22</text>
<text x="459.6" y="383.8" font-size="6.30" text-anchor="middle" fill="#c8324e" stroke="#c8324e" stroke-width="0.08" >2</text>
<text x="509.4" y="373.2" font-size="6.30" text-anchor="middle" fill="#3d6494" stroke="#3d6494" stroke-width="0.08" >0</text>
<text x="509.4" y="383.8" font-size="6.30" text-anchor="middle" fill="#c8324e" stroke="#c8324e" stroke-width="0.08" >0</text>
<path d="M310.4 280 H385 M350.6 280 V327.5 M385 280 V327.5" fill="none" stroke="#333" stroke-width="0.8" stroke-dasharray="2.2 2.25"/>
<path d="M310.4 233.2 H311.2 V238.2 H320.4 V239.5 H321.2 V246.5 H322.7 V251.8 H324.2 V255.7 H325.8 V258.8 H329.6 V260.3 H331.2 V262.6 H334.2 V264.2 H336.5 V266.5 H337.3 V269.5 H345.8 V273.0 H350.4 V280.0 H358.8 V284.2 H364.2 V290.0 H368.4 V294.3 H377.7 V297.9 H398.8 V301.5 H400.8 V304.0 H402.7 V306.2 H414.7 V310.5 H453.5 V315.7 H462.8 V321.2 H483.5 V321.2" fill="none" stroke="#c01a3c" stroke-width="1.35" stroke-linejoin="miter" />
<path d="M310.4 233.2 H312.7 V234.9 H314.2 V237.2 H316.5 V239.1 H320.4 V239.5 H321.5 V241.0 H322.7 V242.6 H324.2 V245.0 H325.8 V247.2 H328.1 V248.0 H335.8 V249.5 H338.0 V250.6 H340.4 V251.8 H343.5 V252.8 H346.5 V253.8 H349.6 V255.7 H351.2 V258.0 H354.2 V259.5 H357.3 V261.1 H361.9 V262.6 H364.2 V264.9 H365.8 V269.5 H369.6 V271.1 H374.2 V272.6 H377.3 V274.2 H379.6 V277.2 H381.9 V278.8 H385.0 V280.0 H390.0 V281.2 H395.0 V282.3 H402.7 V283.8 H405.8 V285.0 H408.8 V286.2 H413.5 V288.0 H424.2 V289.2 H428.8 V291.5 H433.5 V293.1 H438.1 V294.6 H441.2 V296.2 H453.8 V296.2 H455.4 V297.7 H458.5 V299.2 H461.5 V300.8 H464.6 V302.8 H467.7 V304.3 H470.8 V305.4 H473.8 V306.4 H476.9 V307.4 H508.5 V307.4 H508.5 V327.5" fill="none" stroke="#28507f" stroke-width="1.35" stroke-linejoin="miter" />
<path d="M316.5 237.1 v4 M315.1 239.1 h2.8" stroke="#1a1a1a" stroke-width="1.05" fill="none"/>
<path d="M335.8 247.5 v4 M334.4 249.5 h2.8" stroke="#1a1a1a" stroke-width="1.05" fill="none"/>
<path d="M346.5 251.8 v4 M345.1 253.8 h2.8" stroke="#1a1a1a" stroke-width="1.05" fill="none"/>
<path d="M374.2 270.6 v4 M372.8 272.6 h2.8" stroke="#1a1a1a" stroke-width="1.05" fill="none"/>
<path d="M380.4 276.5 v4 M379.0 278.5 h2.8" stroke="#1a1a1a" stroke-width="1.05" fill="none"/>
<path d="M395.0 280.3 v4 M393.6 282.3 h2.8" stroke="#1a1a1a" stroke-width="1.05" fill="none"/>
<path d="M408.8 284.2 v4 M407.4 286.2 h2.8" stroke="#1a1a1a" stroke-width="1.05" fill="none"/>
<path d="M438.1 292.6 v4 M436.7 294.6 h2.8" stroke="#1a1a1a" stroke-width="1.05" fill="none"/>
<path d="M454.5 294.7 v4 M453.1 296.7 h2.8" stroke="#1a1a1a" stroke-width="1.05" fill="none"/>
<path d="M456.0 296.0 v4 M454.6 298.0 h2.8" stroke="#1a1a1a" stroke-width="1.05" fill="none"/>
<path d="M461.5 298.8 v4 M460.1 300.8 h2.8" stroke="#1a1a1a" stroke-width="1.05" fill="none"/>
<path d="M472.0 303.4 v4 M470.6 305.4 h2.8" stroke="#1a1a1a" stroke-width="1.05" fill="none"/>
<path d="M475.0 304.4 v4 M473.6 306.4 h2.8" stroke="#1a1a1a" stroke-width="1.05" fill="none"/>
<path d="M484.6 305.4 v4 M483.2 307.4 h2.8" stroke="#1a1a1a" stroke-width="1.05" fill="none"/>
<path d="M486.2 305.4 v4 M484.8 307.4 h2.8" stroke="#1a1a1a" stroke-width="1.05" fill="none"/>
<path d="M493.8 305.4 v4 M492.4 307.4 h2.8" stroke="#1a1a1a" stroke-width="1.05" fill="none"/>
<path d="M498.5 305.4 v4 M497.1 307.4 h2.8" stroke="#1a1a1a" stroke-width="1.05" fill="none"/>
<path d="M507.7 305.4 v4 M506.3 307.4 h2.8" stroke="#1a1a1a" stroke-width="1.05" fill="none"/>
<path d="M336.5 264.5 v4 M335.1 266.5 h2.8" stroke="#1a1a1a" stroke-width="1.05" fill="none"/>
<path d="M398.8 295.9 v4 M397.4 297.9 h2.8" stroke="#1a1a1a" stroke-width="1.05" fill="none"/>
<path d="M424.2 308.5 v4 M422.8 310.5 h2.8" stroke="#1a1a1a" stroke-width="1.05" fill="none"/>
<path d="M483.5 319.2 v4 M482.1 321.2 h2.8" stroke="#1a1a1a" stroke-width="1.05" fill="none"/>
<rect x="0" y="0" width="1" height="390" fill="#4d4d4d"/>
<rect x="0" y="0" width="520" height="1" fill="#5a5a5a"/>
<rect x="519" y="0" width="1" height="390" fill="#333"/>
<rect x="0" y="389" width="520" height="1" fill="#2a2a2a"/>
</svg>
</body></html>
